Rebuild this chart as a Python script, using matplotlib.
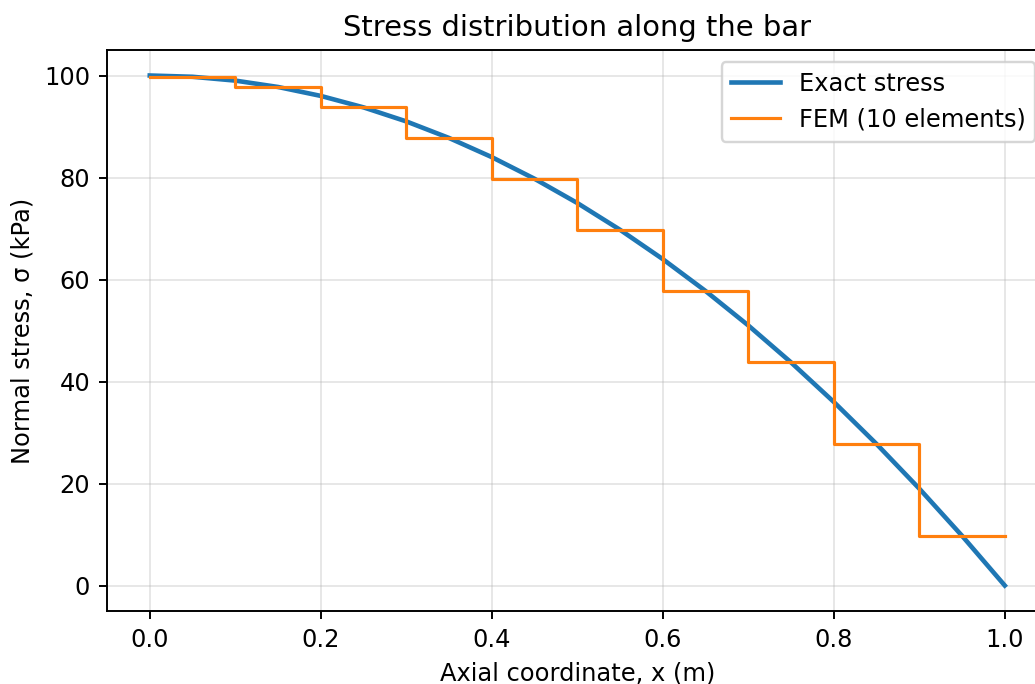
import matplotlib.pyplot as plt
import numpy as np

# exact stress, every 0.05 m
x_exact = [0.0, 0.05, 0.1, 0.15, 0.2, 0.25, 0.3, 0.35, 0.4, 0.45, 0.5,
           0.55, 0.6, 0.65, 0.7, 0.75, 0.8, 0.85, 0.9, 0.95, 1.0]
sigma_exact = [100.0, 99.75, 99.0, 97.75, 96.0, 93.75, 91.0, 87.75, 84.0, 79.75, 75.0,
               69.75, 64.0, 57.75, 51.0, 43.75, 36.0, 27.75, 19.0, 9.75, 0.0]

# element-wise constant FEM stress
element_edges = [0.0, 0.1, 0.2, 0.3, 0.4, 0.5, 0.6, 0.7, 0.8, 0.9, 1.0]
sigma_fem = [99.75, 97.75, 93.75, 87.75, 79.75, 69.75, 57.75, 43.75, 27.75, 9.75]

DPI = 174


def main() -> None:
    fig = plt.figure(figsize=(1035 / DPI, 684 / DPI), dpi=DPI)
    # right edge of the axes runs slightly past the image, as in the reference
    ax = fig.add_axes([0.1034, 0.1067, 0.9087, 0.8202])

    ax.plot(x_exact, sigma_exact, color="#1f77b4", linewidth=1.9, label="Exact stress")
    ax.step(element_edges, sigma_fem + [sigma_fem[-1]], where="post",
            color="#ff7f0e", linewidth=1.3, label="FEM (10 elements)")

    ax.set_xlim(-0.05, 1.05)
    ax.set_ylim(-5, 105)
    ax.grid(True, alpha=0.3)
    ax.set_xlabel("Axial coordinate, x (m)")
    ax.set_ylabel("Normal stress, σ (kPa)")
    ax.set_title("Stress distribution along the bar", fontsize=12)
    ax.legend(loc="upper right")

    fig.savefig("out.png", dpi=DPI)
    plt.close(fig)


if __name__ == "__main__":
    main()
